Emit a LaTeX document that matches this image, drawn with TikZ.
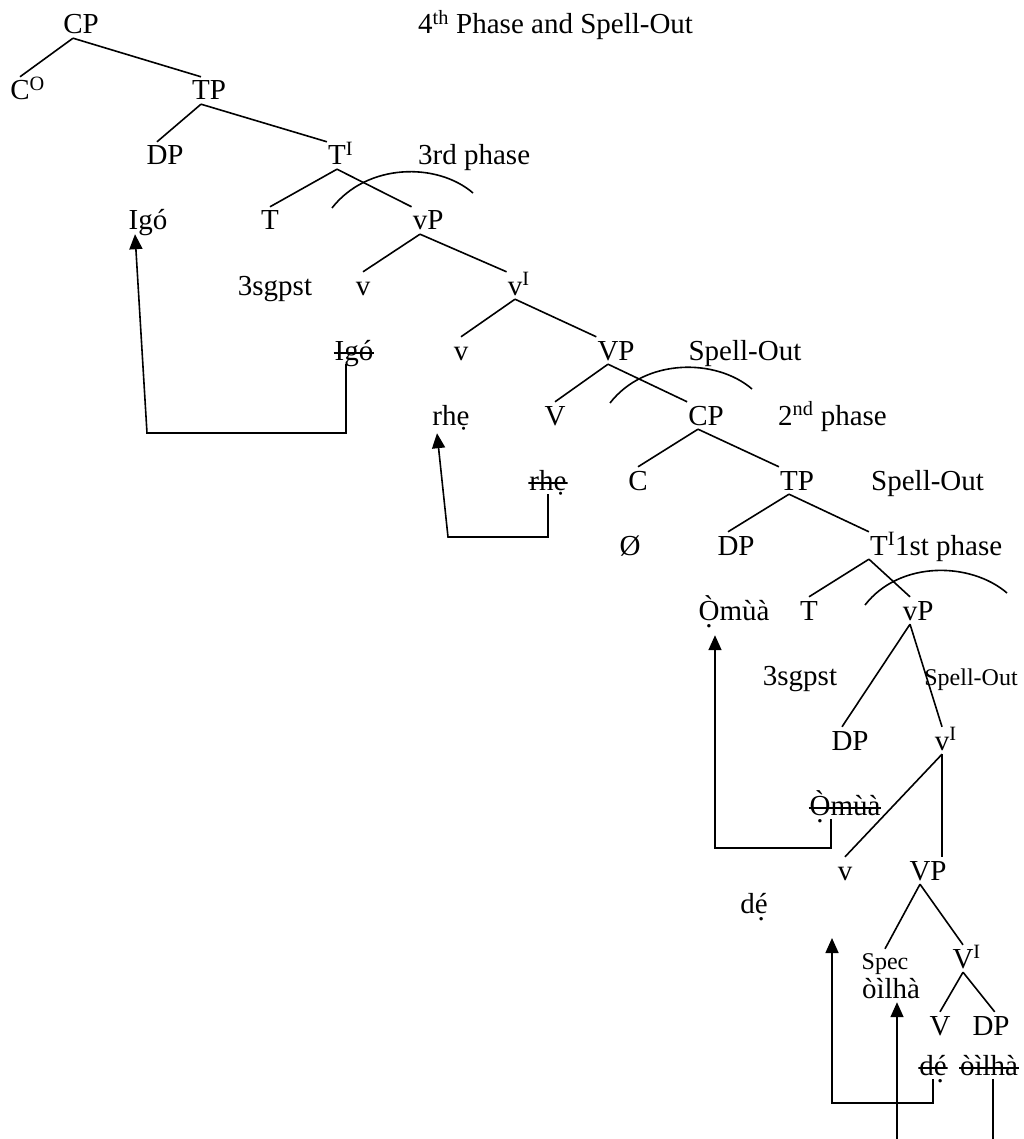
\documentclass[tikz,border=0pt]{standalone}
\usepackage{fontspec}
\setmainfont{Liberation Serif}
\usepackage{tikz}
\usetikzlibrary{arrows.meta}
\newcommand{\phr}[2]{#1\rlap{#2}}
\newcommand{\udot}[1]{\ooalign{#1\cr\hidewidth\raisebox{-7pt}{.}\hidewidth}}

\begin{document}
\begin{tikzpicture}[x=1pt,y=-1pt,font=\fontsize{29}{34}\selectfont,
  lb/.style={anchor=base,inner xsep=1pt,inner ysep=4pt,text height=19pt,text depth=0pt},
  sm/.style={lb,font=\fontsize{24}{28}\selectfont,text height=16pt},
  struck/.style={path picture={\draw[line width=1.5pt]
      ([yshift=11pt]path picture bounding box.south west) --
      ([yshift=11pt]path picture bounding box.south east);}},
  br/.style={line width=1.6pt},
  ph/.style={line width=1.6pt},
  arr/.style={-{Triangle[length=15pt,width=13pt]},line width=1.6pt}]
\useasboundingbox (0,0) rectangle (1024,1139);
% 4th phase
\node[lb] (cp1) at (73,34) {\phr{C}{P}};
\node[lb,anchor=base west] (ttl) at (417,34) {4\textsuperscript{th} Phase and Spell-Out};
\node[lb] (co) at (20,100) {\phr{C}{\textsuperscript{O}}};
\node[lb] (tp1) at (201,100) {\phr{T}{P}};
\node[lb] (dp1) at (157,165) {\phr{D}{P}};
\node[lb] (ti1) at (337,165) {\phr{T}{\textsuperscript{I}}};
\node[lb,anchor=base west] (ph3) at (417,165) {3rd phase};
\node[lb] (igo1) at (148,230) {Igó};
\node[lb] (t1) at (270,230) {T};
\node[lb] (vp1) at (420,230) {\phr{v}{P}};
\node[lb] (sg1) at (275,295) {3sgpst};
\node[lb] (v1) at (363,295) {v};
\node[lb] (vi1) at (515,295) {\phr{v}{\textsuperscript{I}}};
\node[lb,struck] (igo2) at (354,360) {Igó};
\node[lb] (v2) at (461,360) {v};
\node[lb] (vp2) at (608,360) {\phr{V}{P}};
\node[lb] (so1) at (745,360) {Spell-Out};
% 2nd phase
\node[lb] (rhe1) at (451,425) {rhẹ};
\node[lb] (vv1) at (555,425) {V};
\node[lb] (cp2) at (698,425) {\phr{C}{P}};
\node[lb,anchor=base west] (ph2) at (777,425) {2\textsuperscript{nd} phase};
\node[lb,struck] (rhe2) at (548,490) {rhẹ};
\node[lb] (c2) at (638,490) {C};
\node[lb] (tp2) at (789,490) {\phr{T}{P}};
\node[lb,anchor=base west] (so2) at (870,490) {Spell-Out};
\node[lb] (nul) at (630,555) {Ø};
\node[lb] (dp2) at (728,555) {\phr{D}{P}};
\node[lb] (ti2) at (879,555) {\phr{T}{\textsuperscript{I}1st phase}};
% 1st phase
\node[lb] (omua1) at (734,620) {\udot{Ò}mùà};
\node[lb] (t2) at (809,620) {T};
\node[lb] (vp3) at (910,620) {\phr{v}{P}};
\node[lb] (sg2) at (800,685) {3sgpst};
\node[sm] (so3) at (971,685) {Spell-Out};
\node[lb] (dp3) at (842,750) {\phr{D}{P}};
\node[lb] (vi2) at (942,750) {\phr{v}{\textsuperscript{I}}};
\node[lb,struck] (omua2) at (845,815) {\udot{Ò}mùà};
\node[lb] (v3) at (845,880) {v};
\node[lb] (vp4) at (920,880) {\phr{V}{P}};
\node[lb] (de1) at (754,913) {d\udot{é}};
\node[sm] (spec) at (885,969) {Spec};
\node[lb] (vi3) at (963,968) {\phr{V}{\textsuperscript{I}}};
\node[lb] (ojl1) at (891,998) {òìlhà};
\node[lb] (vv2) at (940,1035) {V};
\node[lb] (dp4) at (983,1035) {\phr{D}{P}};
\node[lb,struck] (de2) at (933,1075) {d\udot{é}};
\node[lb,struck] (ojl2) at (989,1075) {òìlhà};
% branches
\draw[br] (cp1.south) -- (co.north) (cp1.south) -- (tp1.north);
\draw[br] (tp1.south) -- (dp1.north) (tp1.south) -- (ti1.north west);
\draw[br] (ti1.south) -- (t1.north) (ti1.south) -- (vp1.north west);
\draw[br] (vp1.south) -- (v1.north) (vp1.south) -- (vi1.north west);
\draw[br] (vi1.south) -- (v2.north) (vi1.south) -- (vp2.north west);
\draw[br] (vp2.south) -- (vv1.north) (vp2.south) -- (cp2.north west);
\draw[br] (cp2.south) -- (c2.north) (cp2.south) -- (tp2.north west);
\draw[br] (tp2.south) -- (dp2.north) (tp2.south) -- (ti2.north west);
\draw[br] (ti2.south west) -- (t2.north) (ti2.south west) -- (vp3.north);
\draw[br] (vp3.south) -- (dp3.north) (vp3.south) -- (vi2.north);
\draw[br] (vi2.south) -- (v3.north) (vi2.south) -- (vi2.south |- vp4.north);
\draw[br] (vp4.south) -- (spec.north) (vp4.south) -- (vi3.north);
\draw[br] (vi3.south) -- (vv2.north) (vi3.south) -- (dp4.north east);
% phase arcs
\draw[ph] (332,208) .. controls +(35,-45) and +(-36,-31) .. (473,193);
\draw[ph] (610,403) .. controls +(35,-45) and +(-36,-31) .. (752,389);
\draw[ph] (865,605) .. controls +(35,-45) and +(-36,-31) .. (1007,593);
% movement
\coordinate (k1) at (147,433);
\coordinate (k2) at (448,537);
\coordinate (k3) at (715,848);
\coordinate (k4) at (832,1103);
\coordinate (k5) at (832,938);
\coordinate (k6) at (897,1139);
\coordinate (k7) at (993,1139);
\draw[arr] ([xshift=-8pt]igo2.south) |- (k1) -- ([xshift=-13pt]igo1.south);
\draw[arr] (rhe2.south) |- (k2) -- ([xshift=-14pt,yshift=-4pt]rhe1.south);
\draw[arr] ([xshift=-14pt]omua2.south) |- (k3) -- ([xshift=-19pt,yshift=-11pt]omua1.south);
\draw[arr] (de2.south) |- (k4) -- (k5);
\draw[arr] (k6) -- ([xshift=6pt]ojl1.south);
\draw[br] ([xshift=4pt]ojl2.south) -- (k7);
\end{tikzpicture}
\end{document}
